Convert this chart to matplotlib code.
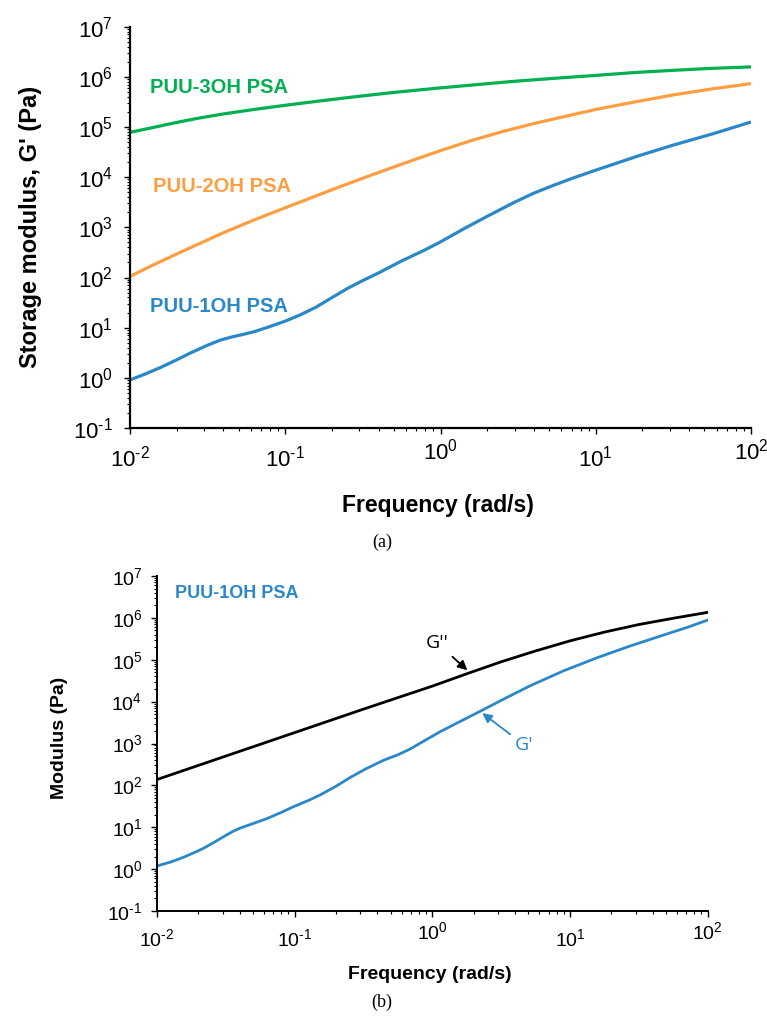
import numpy as np
import matplotlib.pyplot as plt
from matplotlib.ticker import LogLocator, FuncFormatter, NullFormatter
from matplotlib.transforms import ScaledTranslation

plt.rcParams['font.family'] = ['Liberation Sans', 'DejaVu Sans']
plt.rcParams['mathtext.fontset'] = 'custom'
plt.rcParams['mathtext.rm'] = 'Liberation Sans'

# (a) storage modulus of the three PSAs
freq_3oh = [0.01, 0.0141, 0.0191, 0.0269, 0.038, 0.063, 0.098, 0.158, 0.275, 0.501,
            1, 1.78, 2.95, 5.62, 10, 17.8, 31.6, 56.2, 100]
g_3oh = [7.83e4, 9.8e4, 1.2e5, 1.48e5, 1.78e5, 2.24e5, 2.69e5, 3.24e5, 3.98e5, 4.9e5,
         6.03e5, 7.08e5, 8.13e5, 9.44e5, 1.07e6, 1.22e6, 1.35e6, 1.48e6, 1.58e6]

freq_2oh = [0.01, 0.0141, 0.02, 0.0282, 0.0398, 0.0562, 0.0794, 0.126, 0.2, 0.316,
            0.562, 1, 1.58, 2.51, 3.98, 6.31, 10, 17.8, 31.6, 56.2, 100]
g_2oh = [105, 178, 295, 479, 776, 1216, 1862, 3236, 5623, 9550,
         1.82e4, 3.39e4, 5.37e4, 8.13e4, 1.17e5, 1.62e5, 2.24e5, 3.16e5, 4.37e5, 5.75e5, 7.33e5]

freq_1oh = [0.01, 0.0126, 0.0158, 0.02, 0.0251, 0.0316, 0.038, 0.0447, 0.0525, 0.0631,
            0.0794, 0.1, 0.126, 0.158, 0.2, 0.251, 0.316, 0.398, 0.562, 0.794,
            1, 1.41, 2.0, 2.95, 3.98, 5.37, 7.24, 10, 18.6, 31.6, 57.5, 100]
g_1oh = [0.91, 1.20, 1.62, 2.29, 3.24, 4.47, 5.62, 6.46, 7.24, 8.32,
         10.5, 13.5, 18.2, 25.7, 39.8, 60.3, 87.1, 123, 214, 355,
         513, 933, 1660, 3090, 4790, 6920, 9770, 1.38e4, 2.63e4, 4.37e4, 7.41e4, 1.26e5]

# (b) PUU-1OH PSA, G' and G''
freq_gpp = [0.01, 0.0316, 0.1, 0.316, 1, 1.78, 3.16, 5.62, 10, 17.8, 31.6, 56.2, 100]
gpp = [138, 501, 1820, 6610, 2.34e4, 4.62e4, 8.91e4, 1.62e5, 2.82e5, 4.57e5, 6.92e5, 9.77e5, 1.35e6]

freq_gp = [0.01, 0.0126, 0.0155, 0.0191, 0.0217, 0.0257, 0.0303, 0.0355, 0.0402, 0.0501,
           0.0631, 0.0794, 0.098, 0.126, 0.153, 0.2, 0.254, 0.331, 0.443, 0.562,
           0.692, 0.891, 1.14, 1.58, 2.23, 3.39, 5.16, 8.91, 15.8, 27.5, 47.9, 70.8, 100]
gp = [1.19, 1.48, 1.91, 2.57, 3.13, 4.27, 5.89, 7.94, 9.55, 12.3,
      16.2, 22.4, 30.9, 43.7, 58.9, 95.5, 155, 251, 398, 537,
      741, 1200, 1910, 3310, 5890, 1.2e4, 2.4e4, 5.37e4, 1.12e5, 2.14e5, 3.89e5, 5.89e5, 8.81e5]

green = '#00B050'
orange = '#FF9D42'
blue = '#2B88C8'

fig = plt.figure(figsize=(7.67, 10.19), dpi=100)
W, H = 767, 1019
ax1 = fig.add_axes([130 / W, 1 - 428 / H, 621 / W, 401.3 / H])
ax2 = fig.add_axes([157 / W, 1 - 911 / H, 550.5 / W, 335 / H])


def sci(v, pos):
  # hyphen instead of the math minus, as in the source chart
  e = int(round(np.log10(v)))
  return r'$\mathdefault{10^{%s}}$' % str(e).replace('-', '\u2010')


def style_axis(ax, tick_size, sw, ypad, xpad):
  ax.set_xscale('log')
  ax.set_yscale('log')
  ax.set_xlim(1e-2, 1e2)
  ax.set_ylim(1e-1, 1e7)
  for s in ['top', 'right']:
    ax.spines[s].set_visible(False)
  for s in ['left', 'bottom']:
    ax.spines[s].set_linewidth(sw)
  for axis in [ax.xaxis, ax.yaxis]:
    axis.set_major_locator(LogLocator(base=10, numticks=20))
    axis.set_minor_locator(LogLocator(base=10, subs=np.arange(2, 10), numticks=20))
    axis.set_major_formatter(FuncFormatter(sci))
    axis.set_minor_formatter(NullFormatter())
  ax.tick_params(which='major', length=4.5, width=1.0, labelsize=tick_size)
  ax.tick_params(which='minor', length=2.5, width=0.8)
  ax.tick_params(axis='y', which='major', pad=ypad)
  ax.tick_params(axis='x', which='major', pad=xpad)


style_axis(ax1, 16, 1.6, 8, 8)
style_axis(ax2, 14, 1.4, 6, 8)

ax1.plot(freq_3oh, g_3oh, color=green, lw=2.3, solid_capstyle='butt')
ax1.plot(freq_2oh, g_2oh, color=orange, lw=2.3, solid_capstyle='butt')
ax1.plot(freq_1oh, g_1oh, color=blue, lw=2.3, solid_capstyle='butt')

ax1.text(0.0135, 6.0e5, 'PUU-3OH PSA', color=green, fontsize=14.5, fontweight='bold', va='center')
ax1.text(0.0141, 6.6e3, 'PUU-2OH PSA', color=orange, fontsize=14.5, fontweight='bold', va='center')
ax1.text(0.0135, 27, 'PUU-1OH PSA', color=blue, fontsize=14.5, fontweight='bold', va='center')

ax1.set_xlabel('Frequency (rad/s)', fontsize=16.5, fontweight='bold', va='center')
ax1.xaxis.set_label_coords(0.496, -0.192)
ax1.set_ylabel("Storage modulus, G' (Pa)", fontsize=17, fontweight='bold', va='center')
ax1.yaxis.set_label_coords(-0.161, 0.5)

ax2.plot(freq_gpp, gpp, color='black', lw=2.0)
ax2.plot(freq_gp, gp, color=blue, lw=2.0)

ax2.text(0.0135, 3.78e6, 'PUU-1OH PSA', color=blue, fontsize=13, fontweight='bold', va='center')
ax2.annotate("G''", xy=(1.8, 5.6e4), xytext=(1.09, 2.5e5), color='black',
             fontsize=14, family=['Open Sans', 'DejaVu Sans'], ha='center', va='center',
             arrowprops=dict(arrowstyle='-|>', color='black', lw=1.3, mutation_scale=14,
                             shrinkA=2, shrinkB=0))
ax2.annotate("G'", xy=(2.31, 5300), xytext=(4.67, 920), color=blue,
             fontsize=14, family=['Open Sans', 'DejaVu Sans'], ha='center', va='center',
             arrowprops=dict(arrowstyle='-|>', color=blue, lw=1.3, mutation_scale=14,
                             shrinkA=2, shrinkB=0))

ax2.set_xlabel('Frequency (rad/s)', fontsize=14, fontweight='bold', va='center')
ax2.xaxis.set_label_coords(0.496, -0.19)
ax2.set_ylabel('Modulus (Pa)', fontsize=14, fontweight='bold', va='center')
ax2.yaxis.set_label_coords(-0.178, 0.518)

fig.text(382 / W, 1 - 542 / H, '(a)', family=['Liberation Serif', 'DejaVu Serif'],
         fontsize=13, ha='center', va='center')
fig.text(382 / W, 1 - 1002 / H, '(b)', family=['Liberation Serif', 'DejaVu Serif'],
         fontsize=13, ha='center', va='center')

# stagger some x tick labels the way the source chart does
fig.canvas.draw()
raise_pts = {1.0: 5, 100.0: 5}
for ax in [ax1, ax2]:
  for tick, loc in zip(ax.xaxis.get_major_ticks(), ax.xaxis.get_majorticklocs()):
    for key, dy in raise_pts.items():
      if np.isclose(loc, key):
        lab = tick.label1
        lab.set_transform(lab.get_transform() + ScaledTranslation(0, dy / 72, fig.dpi_scale_trans))

fig.savefig('out.png', dpi=100)
